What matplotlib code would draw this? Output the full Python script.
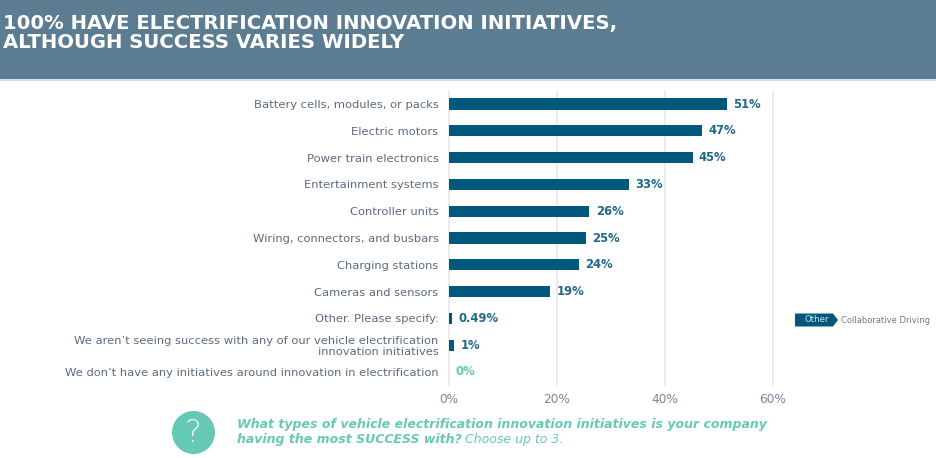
import matplotlib
matplotlib.use("Agg")
import matplotlib.pyplot as plt
from matplotlib.patches import Rectangle, Circle, Polygon

categories = [
    "Battery cells, modules, or packs",
    "Electric motors",
    "Power train electronics",
    "Entertainment systems",
    "Controller units",
    "Wiring, connectors, and busbars",
    "Charging stations",
    "Cameras and sensors",
    "Other. Please specify:",
    "We aren\u2019t seeing success with any of our vehicle electrification\ninnovation initiatives",
    "We don\u2019t have any initiatives around innovation in electrification",
]
values = [51.5, 46.9, 45.1, 33.3, 26, 25.4, 24, 18.7, 0.49, 1, 0]
value_labels = ["51%", "47%", "45%", "33%", "26%", "25%", "24%", "19%", "0.49%", "1%", "0%"]
x_ticks = [0, 20, 40, 60]

W, H = 936, 458
BAR = "#00597c"
TEAL = "#66c9b6"
GREY = "#5d6b80"

plt.rcParams["font.family"] = "DejaVu Sans"
fig = plt.figure(figsize=(W / 100, H / 100), dpi=100)

# full-figure overlay in pixel coords for the banner, badge and tag
bg = fig.add_axes([0, 0, 1, 1])
bg.set_xlim(0, W)
bg.set_ylim(H, 0)
bg.axis("off")
bg.add_patch(Rectangle((0, 0), W, 79, color="#5b7c91", lw=0))
bg.add_patch(Rectangle((0, 79), W, 1.5, color="#d5e0e8", lw=0))
bg.text(3, 33, "100% HAVE ELECTRIFICATION INNOVATION INITIATIVES,\nALTHOUGH SUCCESS VARIES WIDELY",
        color="white", fontsize=14.15, fontweight="bold", va="center", ha="left", linespacing=1.02)

bg.add_patch(Circle((193.5, 432.5), 21.5, color=TEAL, lw=0))
bg.text(193.5, 432.5, "?", color="#e4f5f1", fontsize=23, ha="center", va="center", fontweight="light")
bg.text(237, 424.5, "What types of vehicle electrification innovation initiatives is your company",
        color=TEAL, fontsize=9.0, fontweight="bold", style="italic", va="center")
t = bg.text(237, 439, "having the most SUCCESS with?", color=TEAL, fontsize=9.0,
            fontweight="bold", style="italic", va="center")
fig.canvas.draw()
ext = t.get_window_extent()
bg.text(ext.x1 + 3, 439, "Choose up to 3.", color=TEAL, fontsize=9.0, style="italic", va="center")

bg.add_patch(Polygon([(795, 313.5), (833, 313.5), (838, 320), (833, 326.5), (795, 326.5)], color=BAR, lw=0))
bg.text(817, 320, "Other", color="#d5e2e8", fontsize=6.2, ha="center", va="center")
bg.text(841, 320.5, "Collaborative Driving", color="#6d7a88", fontsize=6.0, ha="left", va="center")

# chart axes, pixel box 449..773 by 91..385
ax = fig.add_axes([449 / W, 1 - 385.4 / H, (773 - 449) / W, (385.4 - 90.6) / H])
ax.patch.set_alpha(0)
y = list(range(len(categories)))
ax.barh(y, values, height=0.42, color=BAR, zorder=3)
ax.set_xlim(0, 60)
ax.set_ylim(len(categories) - 0.5, -0.5)
ax.set_xticks(x_ticks)
ax.set_xticklabels([f"{v}%" for v in x_ticks], color="#7a8798", fontsize=8.7)
ax.set_yticks(y)
ax.set_yticklabels(categories, color=GREY, fontsize=8.25, linespacing=1.05, va="center_baseline")
ax.tick_params(axis="both", length=0)
ax.tick_params(axis="x", pad=5.5)
ax.tick_params(axis="y", pad=7.5)
ax.grid(axis="x", color="#e8e8e8", lw=1.2, zorder=0, clip_on=False)
for s in ax.spines.values():
    s.set_visible(False)

for i, (v, lab) in enumerate(zip(values, value_labels)):
    col = TEAL if v == 0 else "#1f6a8a"
    ax.annotate(lab, (v, i), xytext=(4.6, 0), textcoords="offset points",
                color=col, fontsize=8.4, fontweight="bold", va="center", ha="left")

fig.savefig("out.png", dpi=100)
